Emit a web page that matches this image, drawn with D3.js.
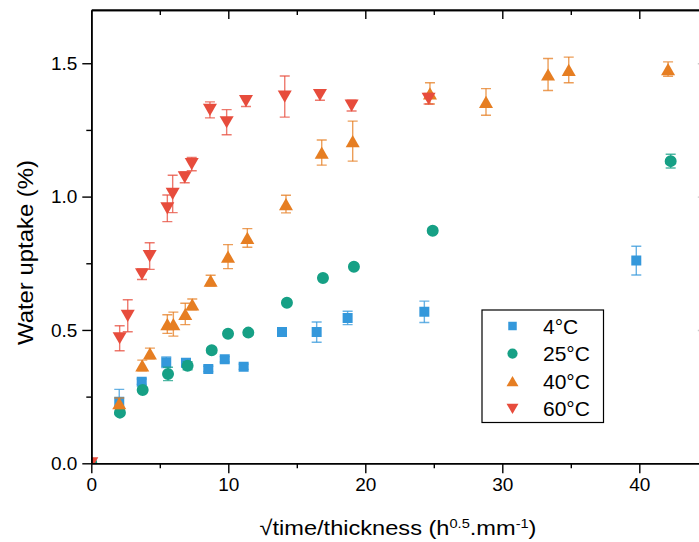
<!DOCTYPE html>
<html>
<head>
<meta charset="utf-8">
<script src="https://cdn.jsdelivr.net/npm/d3@7"></script>
<style>
  html, body { margin: 0; padding: 0; background: #fff; }
  svg { display: block; font-family: "Liberation Sans", Arial, sans-serif; }
</style>
</head>
<body>
<svg id="chart" width="699" height="542"></svg>
<script>
// ---- data ----
const seriesNames = ["4°C", "25°C", "40°C", "60°C"];
const seriesColors = ["#3498db", "#16a085", "#e67e22", "#e74c3c"];

const x4 = [0, 2.04, 3.68, 5.47, 6.91, 8.54, 9.74, 11.12, 13.92, 16.45, 18.71, 24.31, 39.78];
const y4 = [0, 0.231, 0.306, 0.379, 0.377, 0.354, 0.390, 0.362, 0.492, 0.492, 0.545, 0.568, 0.760];
const e4 = [0, 0.046, 0.01, 0.02, 0.015, 0.01, 0.01, 0.01, 0.01, 0.038, 0.025, 0.04, 0.054];

const x25 = [0, 2.09, 3.75, 5.60, 7.03, 8.79, 9.98, 11.46, 14.28, 16.91, 19.17, 24.92, 42.29];
const y25 = [0, 0.190, 0.275, 0.335, 0.366, 0.424, 0.486, 0.490, 0.602, 0.695, 0.737, 0.872, 1.133];
const e25 = [0, 0.01, 0.01, 0.025, 0.015, 0.01, 0.01, 0.01, 0.01, 0.01, 0.01, 0.01, 0.026];

const x40 = [0, 2.04, 3.72, 4.28, 5.55, 5.99, 6.86, 7.37, 8.71, 9.98, 11.39, 14.21, 16.82, 19.08, 24.72, 28.81, 33.34, 34.85, 42.10];
const y40 = [0, 0.225, 0.367, 0.412, 0.522, 0.522, 0.560, 0.596, 0.685, 0.775, 0.845, 0.972, 1.165, 1.208, 1.387, 1.355, 1.458, 1.475, 1.478];
const e40 = [0, 0.02, 0.02, 0.02, 0.035, 0.045, 0.04, 0.02, 0.02, 0.045, 0.035, 0.033, 0.047, 0.075, 0.04, 0.05, 0.06, 0.048, 0.027];

const x60 = [0, 2.07, 2.66, 3.70, 4.26, 5.55, 5.94, 6.82, 7.33, 8.66, 9.88, 11.29, 14.12, 16.69, 19.00, 24.62];
const y60 = [0, 0.469, 0.553, 0.709, 0.777, 0.956, 1.010, 1.072, 1.122, 1.325, 1.279, 1.358, 1.375, 1.381, 1.341, 1.367];
const e60 = [0, 0.047, 0.06, 0.02, 0.05, 0.05, 0.07, 0.02, 0.025, 0.03, 0.047, 0.02, 0.077, 0.02, 0.02, 0.02];

const xTicks = [0, 10, 20, 30, 40];
const yTicks = [0.0, 0.5, 1.0, 1.5];
const xTitle = ["√time/thickness (h", "0.5", ".mm", "-1", ")"];
const yTitle = "Water uptake (%)";

// ---- layout ----
const svg = d3.select("#chart");
const plotLeft = 91.3, plotBottom = 463.3, pxPerX = 13.7, pxPerY = 266.7;
const xMax = 45, yMax = 1.7;
const x = d3.scaleLinear().domain([0, xMax]).range([plotLeft, plotLeft + xMax * pxPerX]);
const y = d3.scaleLinear().domain([0, yMax]).range([plotBottom, plotBottom - yMax * pxPerY]);
const plotTop = y(yMax), plotRight = x(xMax);

const series = [
  {name: seriesNames[0], color: seriesColors[0], xs: x4, ys: y4, es: e4, shape: "square"},
  {name: seriesNames[1], color: seriesColors[1], xs: x25, ys: y25, es: e25, shape: "circle"},
  {name: seriesNames[2], color: seriesColors[2], xs: x40, ys: y40, es: e40, shape: "up"},
  {name: seriesNames[3], color: seriesColors[3], xs: x60, ys: y60, es: e60, shape: "down"}
];

function markerPath(shape, scale) {
  scale = scale || 1;
  if (shape === "square") return d3.symbol(d3.symbolSquare, 100 * scale * scale)();
  if (shape === "circle") return d3.symbol(d3.symbolCircle, 113 * scale * scale)();
  return d3.symbol(d3.symbolTriangle, 85 * scale * scale)();
}
function markerTransform(shape, scale) {
  scale = scale || 1;
  if (shape === "up") return `translate(0,${2.02 * scale})`;
  if (shape === "down") return `rotate(180) translate(0,${2.02 * scale})`;
  return null;
}

svg.append("defs").append("clipPath").attr("id", "plotclip")
  .append("rect").attr("x", plotLeft).attr("y", plotTop)
  .attr("width", plotRight - plotLeft).attr("height", plotBottom - plotTop);

const plot = svg.append("g").attr("clip-path", "url(#plotclip)");

series.forEach(s => {
  const pts = s.xs.map((xv, i) => ({x: xv, y: s.ys[i], e: s.es[i]}));
  const g = plot.append("g");
  const eb = g.selectAll("g.eb").data(pts.filter(p => p.e > 0)).join("g")
    .attr("stroke", s.color).attr("stroke-opacity", 0.75).attr("stroke-width", 1.4).attr("fill", "none");
  eb.append("line")
    .attr("x1", d => x(d.x)).attr("x2", d => x(d.x))
    .attr("y1", d => y(d.y - d.e)).attr("y2", d => y(d.y + d.e));
  eb.append("line")
    .attr("x1", d => x(d.x) - 5).attr("x2", d => x(d.x) + 5)
    .attr("y1", d => y(d.y + d.e)).attr("y2", d => y(d.y + d.e));
  eb.append("line")
    .attr("x1", d => x(d.x) - 5).attr("x2", d => x(d.x) + 5)
    .attr("y1", d => y(d.y - d.e)).attr("y2", d => y(d.y - d.e));
  g.selectAll("g.m").data(pts).join("g")
    .attr("transform", d => `translate(${x(d.x)},${y(d.y)})`)
    .append("path")
    .attr("d", markerPath(s.shape))
    .attr("transform", markerTransform(s.shape))
    .attr("fill", s.color);
});

// ---- axes ----
const minorX = d3.range(5, xMax, 10);
const minorY = [0.25, 0.75, 1.25];

function styleAxis(g, color) {
  g.selectAll(".domain").attr("stroke", "#000").attr("stroke-width", 1.6);
  g.selectAll(".tick line").attr("stroke", color || "#000").attr("stroke-width", 1.4);
  g.selectAll(".tick text").attr("font-size", 19).attr("fill", "#000")
    .attr("font-family", "'Liberation Sans', Arial, sans-serif");
}

styleAxis(svg.append("g").attr("transform", `translate(0,${plotBottom})`)
  .call(d3.axisBottom(x).tickValues(xTicks).tickFormat(d3.format("d")).tickSize(10).tickSizeOuter(0).tickPadding(4)));
styleAxis(svg.append("g").attr("transform", `translate(0,${plotBottom})`)
  .call(d3.axisBottom(x).tickValues(minorX).tickFormat("").tickSize(5).tickSizeOuter(0)));
styleAxis(svg.append("g").attr("transform", `translate(${plotLeft},0)`)
  .call(d3.axisLeft(y).tickValues(yTicks).tickFormat(d3.format(".1f")).tickSize(9).tickSizeOuter(0).tickPadding(5)));
styleAxis(svg.append("g").attr("transform", `translate(${plotLeft},0)`)
  .call(d3.axisLeft(y).tickValues(minorY).tickFormat("").tickSize(5).tickSizeOuter(0)));
styleAxis(svg.append("g").attr("transform", `translate(0,${plotTop})`)
  .call(d3.axisTop(x).tickValues(xTicks.filter(v => v > 0)).tickFormat("").tickSize(-9).tickSizeOuter(0)));
styleAxis(svg.append("g").attr("transform", `translate(0,${plotTop})`)
  .call(d3.axisTop(x).tickValues(minorX).tickFormat("").tickSize(-5).tickSizeOuter(0)));
styleAxis(svg.append("g").attr("transform", `translate(${plotRight},0)`)
  .call(d3.axisRight(y).tickValues(yTicks.filter(v => v > 0)).tickFormat("").tickSize(-10).tickSizeOuter(0)), "#ccc");

// ---- titles ----
const xt = svg.append("text")
  .attr("x", (259 + 537) / 2).attr("y", 535)
  .attr("text-anchor", "middle").attr("font-size", 21).attr("fill", "#000")
  .attr("textLength", 277).attr("lengthAdjust", "spacingAndGlyphs");
xTitle.forEach((t, i) => {
  const sup = (i === 1 || i === 3);
  xt.append("tspan").text(t)
    .attr("font-size", sup ? 13 : 21)
    .attr("baseline-shift", sup ? "55%" : null);
});

svg.append("text")
  .attr("transform", `translate(33,${(160 + 345) / 2}) rotate(-90)`)
  .attr("text-anchor", "middle").attr("font-size", 22).attr("fill", "#000")
  .attr("textLength", 185).attr("lengthAdjust", "spacingAndGlyphs")
  .text(yTitle);

// ---- legend ----
const leg = svg.append("g");
leg.append("rect").attr("x", 482).attr("y", 310).attr("width", 121.5).attr("height", 112.5)
  .attr("fill", "#fff").attr("stroke", "#000").attr("stroke-width", 1.2);
series.forEach((s, i) => {
  const cy = 326 + i * 27.6;
  leg.append("g").attr("transform", `translate(512.5,${cy})`)
    .append("path").attr("d", markerPath(s.shape, 0.85))
    .attr("transform", markerTransform(s.shape, 0.85))
    .attr("fill", s.color);
  leg.append("text").attr("x", 543).attr("y", cy + 7.6)
    .attr("font-size", 21).attr("fill", "#000").text(s.name);
});
</script>
</body>
</html>
